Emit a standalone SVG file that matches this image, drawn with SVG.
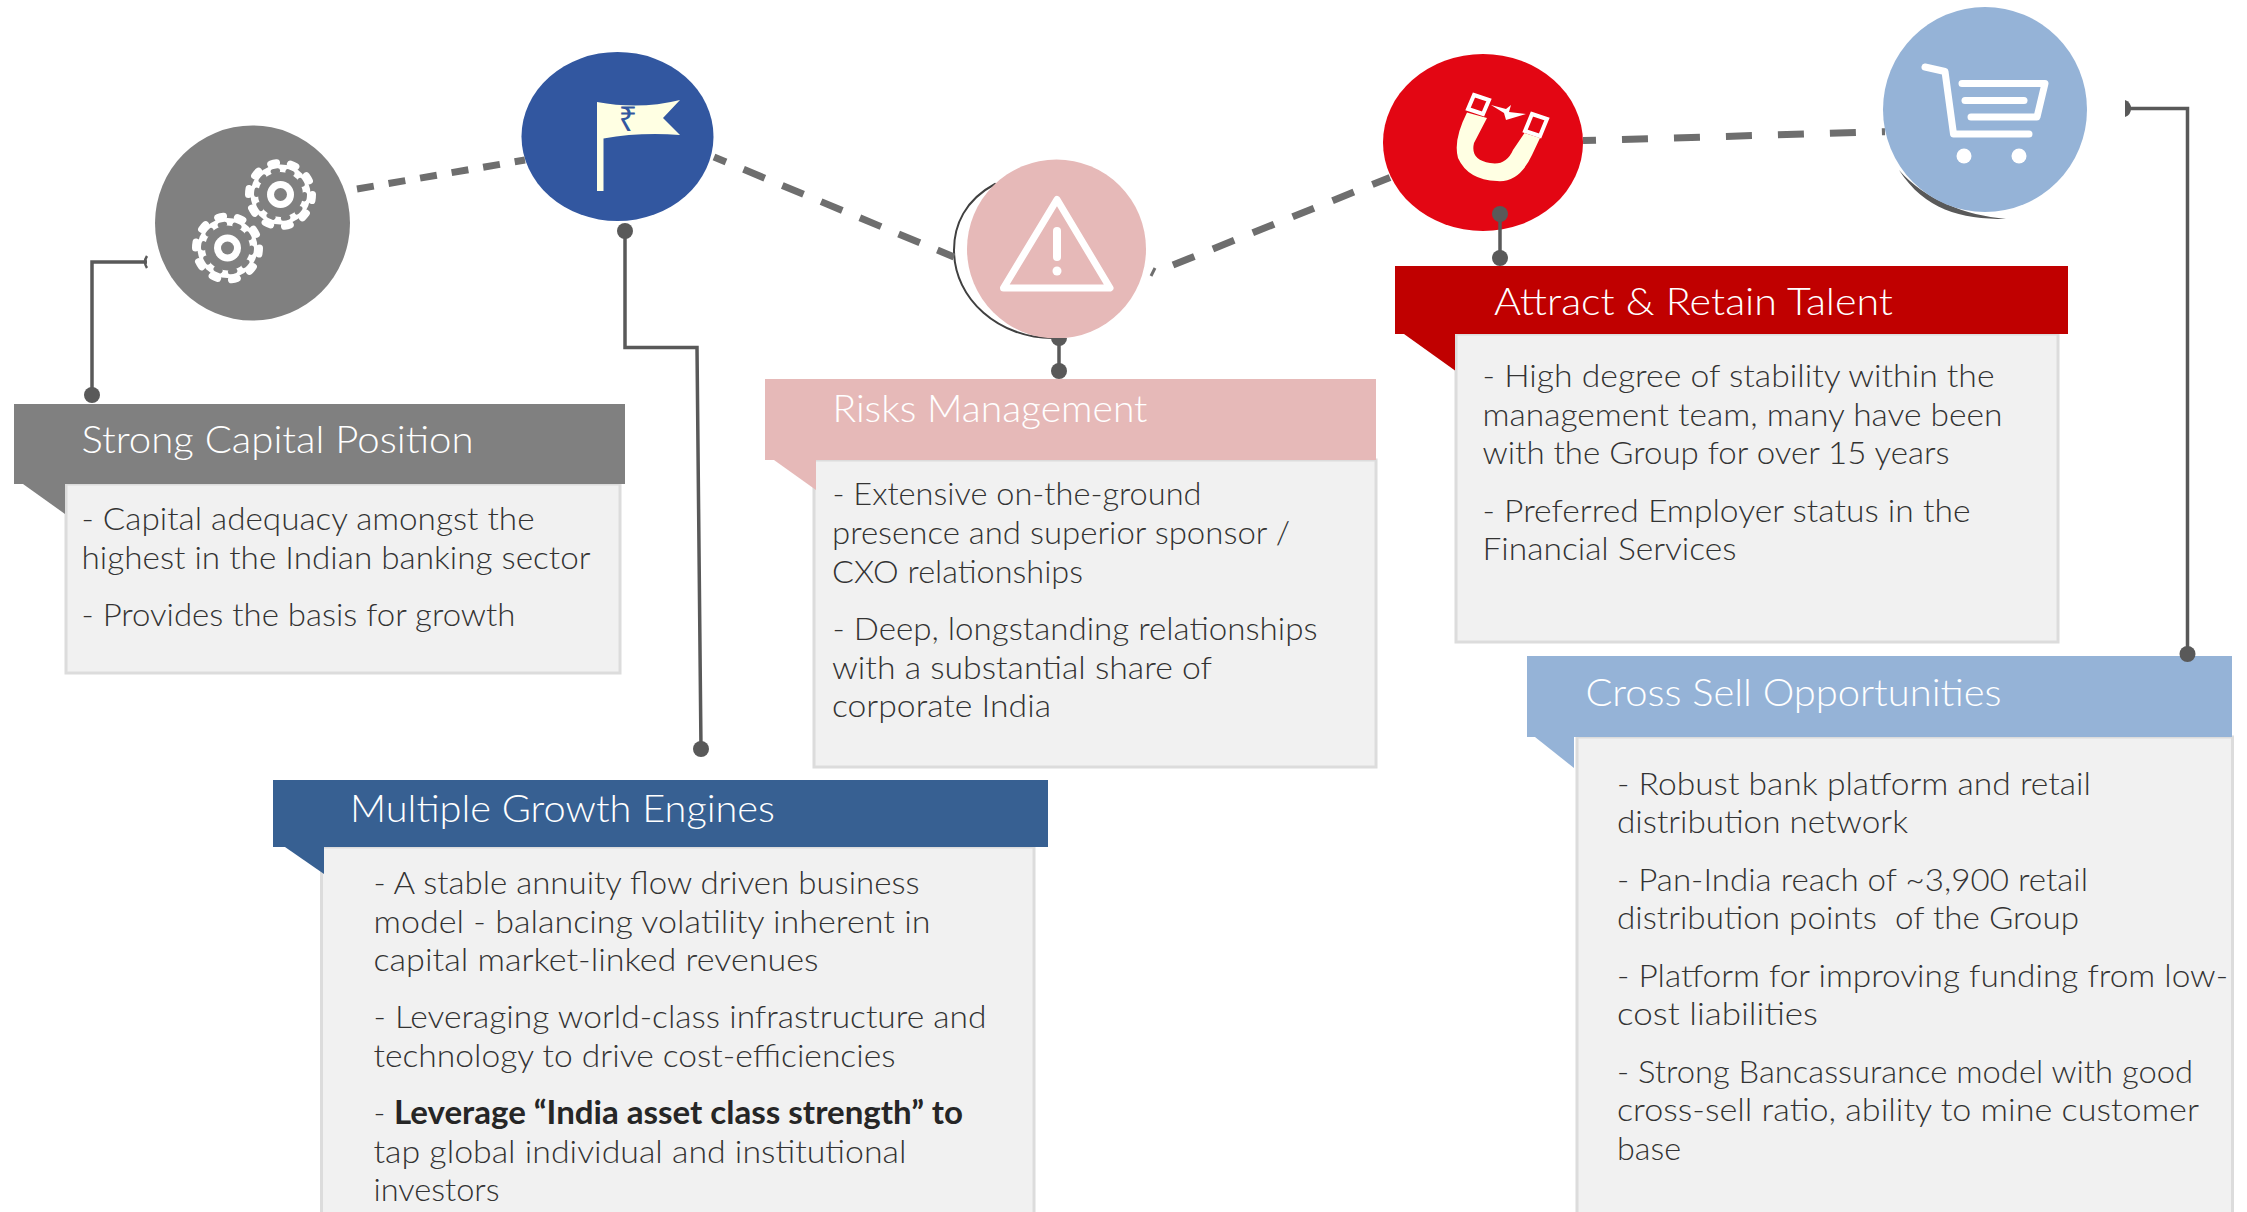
<svg xmlns="http://www.w3.org/2000/svg" width="2247" height="1212" viewBox="0 0 2247 1212">
<style>
text{font-family:Lato,"Open Sans","Liberation Sans",sans-serif;white-space:pre}
.t{font-size:37px;font-weight:300;fill:#fff}
.b{font-size:32px;font-weight:300;fill:#333}
.bb{font-size:32px;font-weight:700;fill:#262626}
.box{fill:#f1f1f1;stroke:#dcdcdc;stroke-width:3}
.dash{fill:none;stroke:#6e6e6e;stroke-width:7}
.link{fill:none;stroke:#595959;stroke-width:3.5}
.dot{fill:#595959}
.ic{fill:none;stroke:#fff;stroke-linecap:round;stroke-linejoin:round}
</style>
<defs>
<g id="gear">
<circle r="30" fill="#fff"/>
<circle r="32" fill="none" stroke="#fff" stroke-width="7" stroke-linecap="round" pathLength="100" stroke-dasharray="3 7"/>
<circle r="22.500" fill="#808080"/>
<circle r="24" fill="none" stroke="#808080" stroke-width="5" stroke-linecap="round" pathLength="100" stroke-dasharray="3 7"/>
<circle r="13.500" fill="#fff"/>
<circle r="6.500" fill="#808080"/>
</g>
</defs>
<rect width="2247" height="1212" fill="#fff"/>

<g id="node-capital">
<ellipse cx="252.500" cy="223" rx="97.500" ry="97.500" fill="#808080"/>
<use href="#gear" x="280.500" y="194.500"/>
<use href="#gear" x="227.500" y="248"/>
<rect class="box" x="66" y="484" width="554" height="189"/>
<path d="M23,484L65,514V484Z" fill="#808080"/>
<rect x="14" y="404" width="611" height="80" fill="#808080"/>
<text class="t" x="81.500" y="453" textLength="392" lengthAdjust="spacingAndGlyphs">Strong Capital Position</text>
<text class="b" x="81.500" y="530" textLength="453" lengthAdjust="spacingAndGlyphs">- Capital adequacy amongst the</text>
<text class="b" x="81.500" y="569" textLength="509" lengthAdjust="spacingAndGlyphs">highest in the Indian banking sector</text>
<text class="b" x="81.500" y="626" textLength="434" lengthAdjust="spacingAndGlyphs">- Provides the basis for growth</text>
</g>

<g id="node-growth">
<ellipse cx="617.500" cy="136.500" rx="96" ry="84.500" fill="#3257a0"/>
<path d="M597,102Q640,110 680,100L663,118L680,135Q640,132 603.500,138.500V191H597Z" fill="#ffffe3"/>
<text x="628" y="131" font-size="33" text-anchor="middle" style="font-family:'Noto Sans','DejaVu Sans',sans-serif" fill="#3257a0">₹</text>
<rect class="box" x="321.500" y="847" width="712.500" height="380"/>
<path d="M285,847L324,874V847Z" fill="#376092"/>
<rect x="273" y="780" width="775" height="67" fill="#376092"/>
<text class="t" x="350" y="822" textLength="425" lengthAdjust="spacingAndGlyphs">Multiple Growth Engines</text>
<text class="b" x="373.500" y="894" textLength="546" lengthAdjust="spacingAndGlyphs">- A stable annuity flow driven business</text>
<text class="b" x="373.500" y="933" textLength="557" lengthAdjust="spacingAndGlyphs">model - balancing volatility inherent in</text>
<text class="b" x="373.500" y="971" textLength="445" lengthAdjust="spacingAndGlyphs">capital market-linked revenues</text>
<text class="b" x="373.500" y="1028" textLength="613" lengthAdjust="spacingAndGlyphs">- Leveraging world-class infrastructure and</text>
<text class="b" x="373.500" y="1067" textLength="522" lengthAdjust="spacingAndGlyphs">technology to drive cost-efficiencies</text>
<text class="b" x="373.500" y="1124">-</text>
<text class="bb" x="394" y="1124" textLength="569" lengthAdjust="spacingAndGlyphs">Leverage “India asset class strength” to</text>
<text class="b" x="373.500" y="1163" textLength="533" lengthAdjust="spacingAndGlyphs">tap global individual and institutional</text>
<text class="b" x="373.500" y="1201" textLength="126" lengthAdjust="spacingAndGlyphs">investors</text>
</g>

<g id="node-risks">
<path d="M995,184C965,200 954,225 954,250C954,300 1000,338 1052,338L1056.500,249Z" fill="#fff" stroke="#404040" stroke-width="2"/>
<circle cx="1056.500" cy="249" r="89.500" fill="#e6b9b8"/>
<path d="M1057,199.500L1110,288H1003.500Z" fill="none" stroke="#fff" stroke-width="7" stroke-linejoin="round"/>
<path d="M1057,231V257" class="ic" stroke-width="8"/>
<circle cx="1057" cy="271" r="4.500" fill="#fff"/>
<rect class="box" x="814" y="460" width="562" height="307"/>
<path d="M774,460L816,490V460Z" fill="#e6b9b8"/>
<rect x="765" y="379" width="611" height="81" fill="#e6b9b8"/>
<text class="t" x="832.500" y="422" textLength="315" lengthAdjust="spacingAndGlyphs">Risks Management</text>
<text class="b" x="832.500" y="505" textLength="369" lengthAdjust="spacingAndGlyphs">- Extensive on-the-ground</text>
<text class="b" x="832" y="544" textLength="458" lengthAdjust="spacingAndGlyphs">presence and superior sponsor /</text>
<text class="b" x="832" y="582.500" textLength="251" lengthAdjust="spacingAndGlyphs">CXO relationships</text>
<text class="b" x="832.500" y="640" textLength="485" lengthAdjust="spacingAndGlyphs">- Deep, longstanding relationships</text>
<text class="b" x="832" y="679" textLength="380" lengthAdjust="spacingAndGlyphs">with a substantial share of</text>
<text class="b" x="832" y="717" textLength="219" lengthAdjust="spacingAndGlyphs">corporate India</text>
</g>

<g id="node-talent">
<ellipse cx="1483" cy="142.500" rx="100" ry="88.500" fill="#e30613"/>
<path d="M1467,112.500L1487,118L1474,143Q1470,160 1490,163Q1506,166 1513,150L1524.500,133L1540,138L1532,155Q1519,183 1497,181Q1468,180 1458,158Q1453,140 1467,112.500Z" fill="#ffffe3"/>
<path d="M1474,95L1489,100L1483,114L1468,109ZM1532,114L1547,119L1540,136L1525,131Z" fill="none" stroke="#fff" stroke-width="4"/>
<path d="M1491,105L1506,109L1511,105L1509,112L1526,114L1506,120L1504,113Z" fill="#fff"/>
<rect class="box" x="1456" y="334" width="602" height="308"/>
<path d="M1404,334L1455,370.500V334Z" fill="#c00000"/>
<rect x="1395" y="266" width="673" height="68" fill="#c00000"/>
<text class="t" x="1494" y="315" textLength="399" lengthAdjust="spacingAndGlyphs">Attract &amp; Retain Talent</text>
<text class="b" x="1482.500" y="387" textLength="512" lengthAdjust="spacingAndGlyphs">- High degree of stability within the</text>
<text class="b" x="1482.500" y="426" textLength="520" lengthAdjust="spacingAndGlyphs">management team, many have been</text>
<text class="b" x="1482.500" y="464" textLength="467" lengthAdjust="spacingAndGlyphs">with the Group for over 15 years</text>
<text class="b" x="1482.500" y="522" textLength="488" lengthAdjust="spacingAndGlyphs">- Preferred Employer status in the</text>
<text class="b" x="1482.500" y="560" textLength="254" lengthAdjust="spacingAndGlyphs">Financial Services</text>
</g>

<g id="node-crosssell">
<path d="M1899,170C1925,210 1960,219 2006,219C1965,215 1925,200 1899,170Z" fill="#595959"/>
<ellipse cx="1985" cy="109.500" rx="102" ry="102.500" fill="#95b3d7"/>
<path d="M1925,67L1945,71.500L1953.500,134H2029" class="ic" stroke-width="7"/>
<path d="M1962,83.500H2045L2037,117H1971" class="ic" stroke-width="7"/>
<path d="M1965,100.500H2024" class="ic" stroke-width="7"/>
<circle cx="1964" cy="156" r="7.500" fill="#fff"/>
<circle cx="2019" cy="156" r="7.500" fill="#fff"/>
<rect class="box" x="1577" y="737" width="655.500" height="490"/>
<path d="M1535,737L1574,768V737Z" fill="#95b3d7"/>
<rect x="1527" y="656" width="705" height="81" fill="#95b3d7"/>
<text class="t" x="1585.500" y="706" textLength="416" lengthAdjust="spacingAndGlyphs">Cross Sell Opportunities</text>
<text class="b" x="1617" y="795" textLength="474" lengthAdjust="spacingAndGlyphs">- Robust bank platform and retail</text>
<text class="b" x="1617" y="833" textLength="291" lengthAdjust="spacingAndGlyphs">distribution network</text>
<text class="b" x="1617" y="891" textLength="471" lengthAdjust="spacingAndGlyphs">- Pan-India reach of ~3,900 retail</text>
<text class="b" x="1617" y="929" textLength="462" lengthAdjust="spacingAndGlyphs">distribution points  of the Group</text>
<text class="b" x="1617" y="987" textLength="611" lengthAdjust="spacingAndGlyphs">- Platform for improving funding from low-</text>
<text class="b" x="1617" y="1025" textLength="201" lengthAdjust="spacingAndGlyphs">cost liabilities</text>
<text class="b" x="1617" y="1083" textLength="576" lengthAdjust="spacingAndGlyphs">- Strong Bancassurance model with good</text>
<text class="b" x="1617" y="1121" textLength="582" lengthAdjust="spacingAndGlyphs">cross-sell ratio, ability to mine customer</text>
<text class="b" x="1617" y="1160" textLength="64" lengthAdjust="spacingAndGlyphs">base</text>
</g>

<g id="connectors">
<path class="dash" d="M357,189L525,160" stroke-dasharray="17 15"/>
<path class="dash" d="M714,157L954,257" stroke-dasharray="23 19" stroke-dashoffset="10"/>
<path class="dash" d="M1173,265L1390,177.500" stroke-dasharray="23 20"/>
<path d="M1151,276L1155,268" fill="none" stroke="#6e6e6e" stroke-width="3"/>
<path class="dash" d="M1583,140.600L1885,131.700" stroke-dasharray="26 26" stroke-dashoffset="13"/>
<path class="link" d="M92,395V262H147"/>
<path d="M147,256Q143,262 147,268" fill="none" stroke="#595959" stroke-width="2.500"/>
<circle class="dot" cx="92" cy="395" r="8"/>
<path class="link" d="M625,231V347.500H697L701,749"/>
<ellipse class="dot" cx="625" cy="231" rx="8" ry="8"/>
<circle class="dot" cx="701" cy="749" r="8"/>
<path class="link" d="M1059,340V371"/>
<path class="dot" d="M1051,338H1067A8,8 0 0 1 1051,338Z"/>
<circle class="dot" cx="1059" cy="371" r="8"/>
<path class="link" d="M1500,214V258"/>
<circle class="dot" cx="1500" cy="214" r="8"/>
<circle class="dot" cx="1500" cy="258" r="8"/>
<path class="link" d="M2128,108.500H2187.500V654"/>
<path class="dot" d="M2125,100A9,9 0 0 1 2125,117Z"/>
<circle class="dot" cx="2187.500" cy="654" r="8"/>
</g>
</svg>
